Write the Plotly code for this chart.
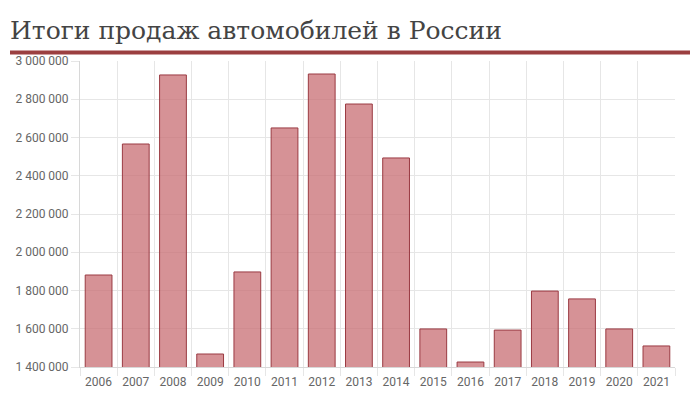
import plotly.graph_objects as go

years = [str(y) for y in range(2006, 2022)]
sales = [1881000, 2566000, 2927000, 1468000, 1897000, 2650000, 2932000, 2775000,
         2493000, 1599000, 1426000, 1593000, 1797000, 1756000, 1599000, 1510000]
title_text = "Итоги продаж автомобилей в России"

W, H = 695, 394
L, R, T, B = 80, 20, 61, 27
pw, ph = W - L - R, H - T - B

fig = go.Figure(go.Bar(
    x=years, y=sales, width=0.72,
    marker=dict(color="rgba(200,110,115,0.75)", line=dict(color="#9a3a42", width=1)),
    hoverinfo="x+y",
))

fig.update_layout(
    width=W, height=H,
    margin=dict(l=L, r=R, t=T, b=B),
    paper_bgcolor="white", plot_bgcolor="white",
    separators=". ",
    showlegend=False,
    font=dict(family="Roboto, Arial, sans-serif", color="#666", size=12),
    title=dict(text=title_text, x=10 / W, xanchor="left", y=1 - 30 / H, yanchor="middle",
               xref="container", yref="container", automargin=False,
               font=dict(family="DejaVu Serif", size=25, color="#444")),
    xaxis=dict(type="category", tickson="boundaries", showgrid=True, gridcolor="#e6e6e6",
               ticks="outside", ticklen=8, tickcolor="#e6e6e6",
               ticklabelstandoff=4, automargin=False,
               showline=True, linecolor="#d8d8d8", linewidth=1,
               tickfont=dict(size=12, color="#666")),
    yaxis=dict(range=[1400000, 3000000], dtick=200000, tickformat=",d",
               showgrid=True, gridcolor="#e6e6e6", zeroline=False,
               ticks="outside", ticklen=8, tickcolor="#e6e6e6", automargin=False,
               showline=True, linecolor="#d8d8d8", linewidth=1,
               tickfont=dict(size=12, color="#666")),
    shapes=[dict(type="line", xref="paper", yref="paper",
                 x0=(10 - L) / pw, x1=(690 - L) / pw,
                 y0=(H - B - 52.5) / ph, y1=(H - B - 52.5) / ph,
                 line=dict(color="#9b3f40", width=4))],
)

fig.write_html("out.html")
